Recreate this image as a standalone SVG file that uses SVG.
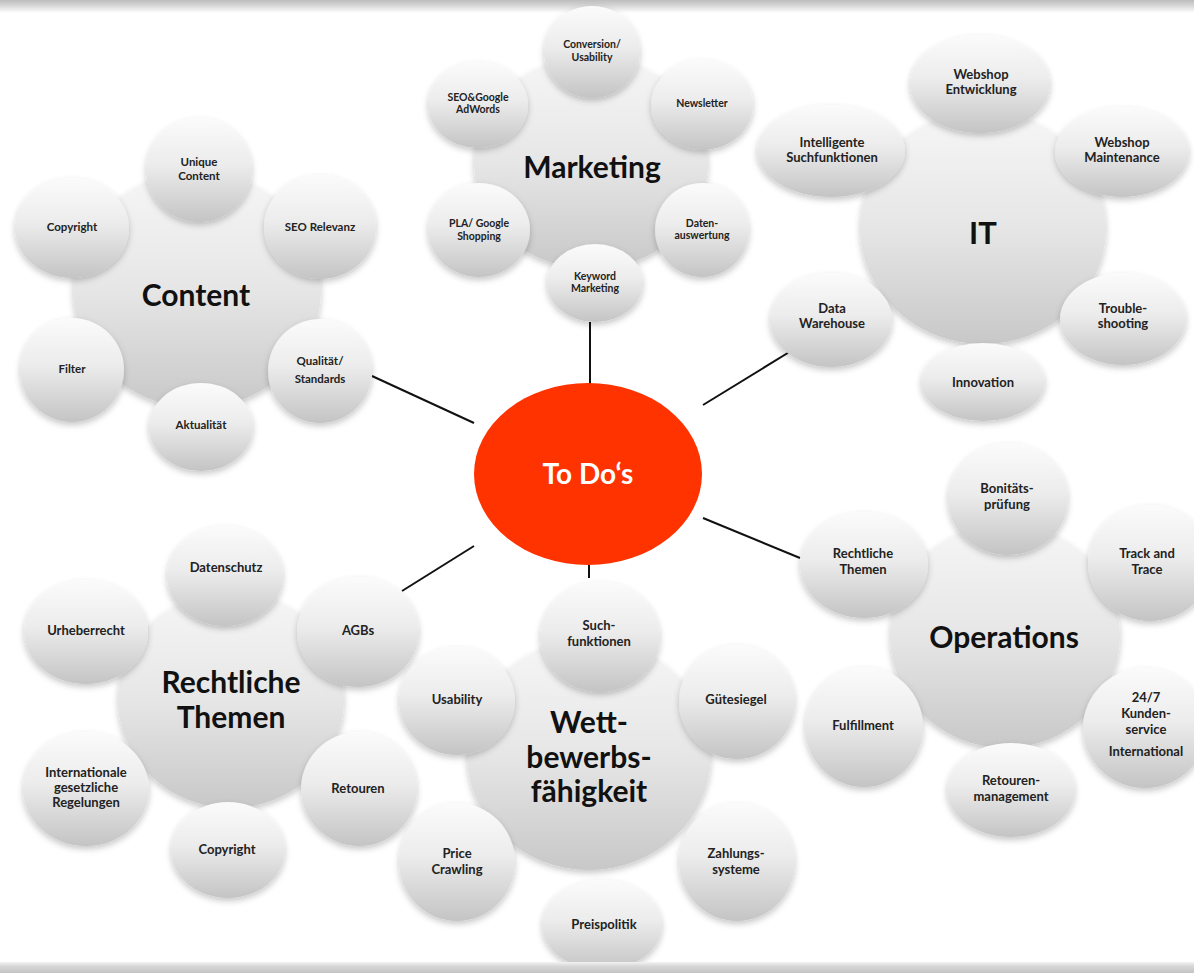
<svg xmlns="http://www.w3.org/2000/svg" width="1194" height="973" viewBox="0 0 1194 973">
<defs>
<linearGradient id="gs" x1="0" y1="0" x2="0" y2="1">
<stop offset="0" stop-color="#fbfbfb"/>
<stop offset="0.45" stop-color="#ececec"/>
<stop offset="1" stop-color="#c4c4c4"/>
</linearGradient>
<linearGradient id="gb" x1="0" y1="0" x2="0" y2="1">
<stop offset="0" stop-color="#f6f6f6"/>
<stop offset="0.5" stop-color="#e6e6e6"/>
<stop offset="1" stop-color="#c8c8c8"/>
</linearGradient>
<linearGradient id="gtop" x1="0" y1="0" x2="0" y2="1">
<stop offset="0" stop-color="#bdbdbd"/>
<stop offset="0.4" stop-color="#d4d4d4"/>
<stop offset="1" stop-color="#ffffff"/>
</linearGradient>
<linearGradient id="gbot" x1="0" y1="0" x2="0" y2="1">
<stop offset="0" stop-color="#f3f3f3"/>
<stop offset="0.4" stop-color="#d6d6d6"/>
<stop offset="1" stop-color="#c4c4c4"/>
</linearGradient>
<filter id="sh" x="-20%" y="-20%" width="140%" height="150%">
<feDropShadow dx="0" dy="3" stdDeviation="3" flood-color="#000" flood-opacity="0.22"/>
</filter>
</defs>
<style>
.s{fill:url(#gs);filter:url(#sh)}
.b{fill:url(#gb);filter:url(#sh)}
text{font-family:Lato,"Liberation Sans",sans-serif;font-weight:bold;text-anchor:middle;fill:#222}
.t{font-size:11.5px}
.tm{font-size:10.5px}
.tl{font-size:13px}
.big{font-size:30px;fill:#111}
.todo{font-size:28px;fill:#fff}
.con{stroke:#111;stroke-width:2;fill:none}
</style>
<rect width="1194" height="973" fill="#ffffff"/>
<rect x="0" y="0" width="1194" height="13" fill="url(#gtop)"/>

<g id="connectors">
<line class="con" x1="590" y1="322" x2="590" y2="384"/>
<line class="con" x1="372" y1="376" x2="474" y2="423"/>
<line class="con" x1="703" y1="405" x2="791" y2="351"/>
<line class="con" x1="474" y1="546" x2="402" y2="591"/>
<line class="con" x1="703" y1="518" x2="800" y2="558"/>
<line class="con" x1="589" y1="565" x2="589" y2="578"/>
</g>

<g id="todo">
<ellipse cx="588" cy="474" rx="114" ry="91" fill="#ff3300"/>
<text class="todo" x="588" y="484">To Do‘s</text>
</g>

<!-- Content -->
<g id="content">
<ellipse class="b" cx="197" cy="290" rx="124" ry="118"/>
<text class="big" x="196" y="306">Content</text>
</g>
<g id="c-unique"><ellipse class="s" cx="199" cy="170" rx="53" ry="52"/><text class="t" x="199" y="166">Unique</text><text class="t" x="199" y="180">Content</text></g>
<g id="c-copyright"><ellipse class="s" cx="72" cy="228" rx="57" ry="50"/><text class="t" x="72" y="231">Copyright</text></g>
<g id="c-seo"><ellipse class="s" cx="320" cy="227" rx="56" ry="52"/><text class="t" x="320" y="231">SEO Relevanz</text></g>
<g id="c-filter"><ellipse class="s" cx="72" cy="370" rx="52" ry="52"/><text class="t" x="72" y="373">Filter</text></g>
<g id="c-aktualitaet"><ellipse class="s" cx="201" cy="427" rx="52" ry="44"/><text class="t" x="201" y="429">Aktualität</text></g>
<g id="c-qualitaet"><ellipse class="s" cx="320" cy="371" rx="52" ry="52"/><text class="t" x="320" y="365">Qualität/</text><text class="t" x="320" y="383">Standards</text></g>

<!-- Marketing -->
<g id="marketing">
<ellipse class="b" cx="591" cy="163" rx="117" ry="106"/>
<text class="big" x="592" y="178">Marketing</text>
</g>
<g id="m-conversion"><ellipse class="s" cx="592" cy="52" rx="48" ry="46"/><text class="tm" x="592" y="48">Conversion/</text><text class="tm" x="592" y="61">Usability</text></g>
<g id="m-seo"><ellipse class="s" cx="478" cy="105" rx="50" ry="43"/><text class="tm" x="478" y="101">SEO&amp;Google</text><text class="tm" x="478" y="113">AdWords</text></g>
<g id="m-newsletter"><ellipse class="s" cx="702" cy="105" rx="51" ry="45"/><text class="tm" x="702" y="107">Newsletter</text></g>
<g id="m-pla"><ellipse class="s" cx="479" cy="230" rx="51" ry="47"/><text class="tm" x="479" y="227">PLA/ Google</text><text class="tm" x="479" y="240">Shopping</text></g>
<g id="m-daten"><ellipse class="s" cx="702" cy="230" rx="47" ry="47"/><text class="tm" x="702" y="227">Daten-</text><text class="tm" x="702" y="239">auswertung</text></g>
<g id="m-keyword"><ellipse class="s" cx="595" cy="283" rx="48" ry="39"/><text class="tm" x="595" y="280">Keyword</text><text class="tm" x="595" y="292">Marketing</text></g>

<!-- IT -->
<g id="it">
<ellipse class="b" cx="983" cy="228" rx="123" ry="116"/>
<text class="big" x="983" y="244" style="font-size:31px">IT</text>
</g>
<g id="it-entwicklung"><ellipse class="s" cx="980" cy="84" rx="70" ry="49"/><text class="tl" x="981" y="79">Webshop</text><text class="tl" x="981" y="94">Entwicklung</text></g>
<g id="it-intelligente"><ellipse class="s" cx="831" cy="151" rx="74" ry="46"/><text class="tl" x="832" y="147">Intelligente</text><text class="tl" x="832" y="162">Suchfunktionen</text></g>
<g id="it-maintenance"><ellipse class="s" cx="1122" cy="152" rx="67" ry="45"/><text class="tl" x="1122" y="147">Webshop</text><text class="tl" x="1122" y="162">Maintenance</text></g>
<g id="it-datawarehouse"><ellipse class="s" cx="831" cy="320" rx="61" ry="47"/><text class="tl" x="832" y="313">Data</text><text class="tl" x="832" y="328">Warehouse</text></g>
<g id="it-trouble"><ellipse class="s" cx="1123" cy="319" rx="63" ry="46"/><text class="tl" x="1123" y="313">Trouble-</text><text class="tl" x="1123" y="328">shooting</text></g>
<g id="it-innovation"><ellipse class="s" cx="983" cy="382" rx="62" ry="39"/><text class="tl" x="983" y="387">Innovation</text></g>

<!-- Operations -->
<g id="operations">
<ellipse class="b" cx="1005" cy="636" rx="115" ry="112"/>
<text class="big" x="1004" y="648">Operations</text>
</g>
<g id="o-bonitaet"><ellipse class="s" cx="1008" cy="499" rx="60" ry="56"/><text class="tl" x="1007" y="493">Bonitäts-</text><text class="tl" x="1007" y="509">prüfung</text></g>
<g id="o-rechtliche"><ellipse class="s" cx="864" cy="565" rx="64" ry="53"/><text class="tl" x="863" y="558">Rechtliche</text><text class="tl" x="863" y="574">Themen</text></g>
<g id="o-track"><ellipse class="s" cx="1150" cy="563" rx="62" ry="58"/><text class="tl" x="1147" y="558">Track and</text><text class="tl" x="1147" y="574">Trace</text></g>
<g id="o-fulfillment"><ellipse class="s" cx="864" cy="727" rx="59" ry="60"/><text class="tl" x="863" y="730">Fulfillment</text></g>
<g id="o-kundenservice"><ellipse class="s" cx="1145" cy="728" rx="62" ry="60"/><text class="tl" x="1146" y="702">24/7</text><text class="tl" x="1146" y="718">Kunden-</text><text class="tl" x="1146" y="734">service</text><text class="tl" x="1146" y="756">International</text></g>
<g id="o-retouren"><ellipse class="s" cx="1011" cy="790" rx="64" ry="47"/><text class="tl" x="1011" y="785">Retouren-</text><text class="tl" x="1011" y="801">management</text></g>

<!-- Rechtliche Themen -->
<g id="rechtliche">
<ellipse class="b" cx="231" cy="700" rx="113" ry="108"/>
<text class="big" x="231" y="693">Rechtliche</text>
<text class="big" x="231" y="728">Themen</text>
</g>
<g id="r-datenschutz"><ellipse class="s" cx="225" cy="576" rx="58" ry="50"/><text class="tl" x="226" y="572">Datenschutz</text></g>
<g id="r-urheberrecht"><ellipse class="s" cx="86" cy="632" rx="62" ry="52"/><text class="tl" x="86" y="635">Urheberrecht</text></g>
<g id="r-agbs"><ellipse class="s" cx="358" cy="632" rx="61" ry="55"/><text class="tl" x="358" y="635">AGBs</text></g>
<g id="r-international"><ellipse class="s" cx="86" cy="789" rx="63" ry="57"/><text class="tl" x="86" y="777">Internationale</text><text class="tl" x="86" y="792">gesetzliche</text><text class="tl" x="86" y="807">Regelungen</text></g>
<g id="r-retouren"><ellipse class="s" cx="359" cy="789" rx="58" ry="57"/><text class="tl" x="358" y="793">Retouren</text></g>
<g id="r-copyright"><ellipse class="s" cx="228" cy="850" rx="57" ry="48"/><text class="tl" x="227" y="854">Copyright</text></g>

<!-- Wettbewerbsfähigkeit -->
<g id="wettbewerb">
<ellipse class="b" cx="589" cy="755" rx="122" ry="115"/>
<text class="big" x="589" y="733">Wett-</text>
<text class="big" x="589" y="768">bewerbs-</text>
<text class="big" x="589" y="802">fähigkeit</text>
</g>
<g id="w-such"><ellipse class="s" cx="600" cy="637" rx="60" ry="55"/><text class="tl" x="599" y="630">Such-</text><text class="tl" x="599" y="646">funktionen</text></g>
<g id="w-usability"><ellipse class="s" cx="457" cy="701" rx="58" ry="54"/><text class="tl" x="457" y="704">Usability</text></g>
<g id="w-guetesiegel"><ellipse class="s" cx="737" cy="702" rx="58" ry="57"/><text class="tl" x="736" y="704">Gütesiegel</text></g>
<g id="w-price"><ellipse class="s" cx="457" cy="862" rx="58" ry="59"/><text class="tl" x="457" y="858">Price</text><text class="tl" x="457" y="874">Crawling</text></g>
<g id="w-zahlung"><ellipse class="s" cx="737" cy="862" rx="58" ry="59"/><text class="tl" x="736" y="858">Zahlungs-</text><text class="tl" x="736" y="874">systeme</text></g>
<g id="w-preis"><ellipse class="s" cx="602" cy="925" rx="60" ry="45"/><text class="tl" x="604" y="929">Preispolitik</text></g>

<rect x="0" y="962" width="1194" height="11" fill="url(#gbot)"/>
</svg>
